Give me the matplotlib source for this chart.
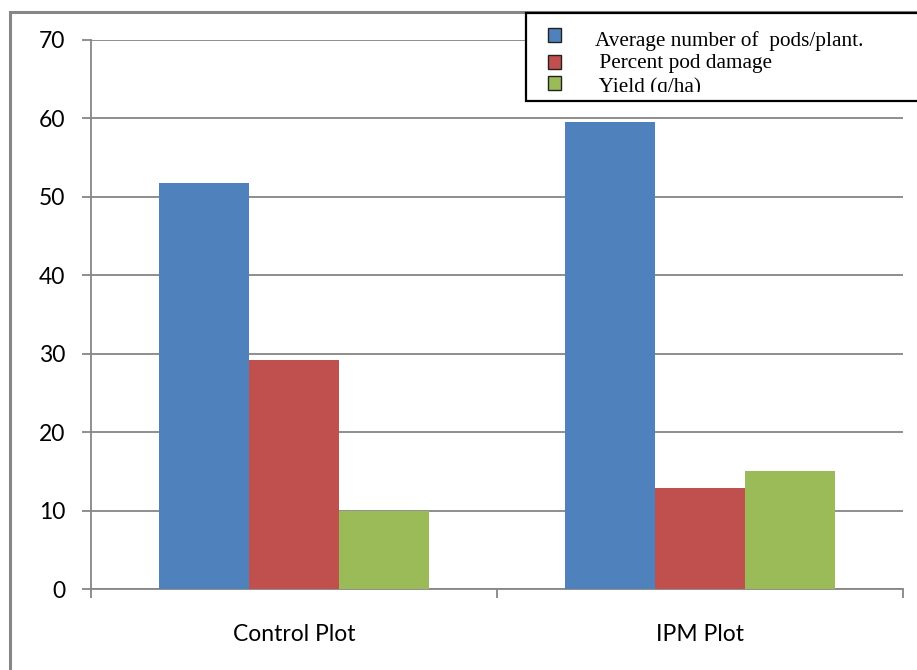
import matplotlib
matplotlib.use("Agg")
import matplotlib.pyplot as plt
from matplotlib.patches import Rectangle
from matplotlib.transforms import Bbox, TransformedBbox
import numpy as np

categories = ["Control Plot", "IPM Plot"]
series_names = ["Average number of  pods/plant.", " Percent pod damage", " Yield (q/ha)"]
pods_per_plant = [51.8, 59.5]
pod_damage = [29.2, 12.9]
yield_qha = [10.0, 15.0]
yticks = [0, 10, 20, 30, 40, 50, 60, 70]

colors = ["#4F81BD", "#C0504D", "#9BBB59"]
grid_gray = "#868686"

W, H = 917, 670
fig = plt.figure(figsize=(W / 100, H / 100), dpi=100)
ax = fig.add_axes([91 / W, 1 - 589 / H, (903 - 91) / W, (589 - 40) / H])

x = np.arange(len(categories))
bw = 0.222
for i, vals in enumerate([pods_per_plant, pod_damage, yield_qha]):
    ax.bar(x + (i - 1) * bw, vals, width=bw, color=colors[i], zorder=3)

ax.set_xlim(-0.5, 1.5)
ax.set_ylim(0, 70)
ax.set_yticks(yticks)
ax.yaxis.grid(True, color=grid_gray, linewidth=1.3, zorder=0)
ax.set_axisbelow(True)

ax.set_xticks(x)
ax.set_xticklabels(categories)
ax.set_xticks([-0.5, 0.5, 1.5], minor=True)
ax.tick_params(axis="x", which="major", length=0, pad=25)
ax.tick_params(axis="x", which="minor", length=6.5, width=1.3, color=grid_gray)
ax.tick_params(axis="y", length=6.5, width=1.3, color=grid_gray, pad=12)
for lab in ax.get_xticklabels() + ax.get_yticklabels():
    lab.set_fontfamily("Lato")
    lab.set_fontsize(16.5)

for s in ["top", "right"]:
    ax.spines[s].set_visible(False)
for s in ["left", "bottom"]:
    ax.spines[s].set_color(grid_gray)
    ax.spines[s].set_linewidth(1.3)

# outer chart frame
fig.patches.append(Rectangle((9.5 / W, 1 - 2000 / H), 3000 / W, (2000 - 11.5) / H,
                             transform=fig.transFigure, fill=False,
                             edgecolor=grid_gray, linewidth=2.2))

# legend box (text clipped at the bottom like the original)
fig.patches.append(Rectangle((526 / W, 1 - 101 / H), 1000 / W, (101 - 13) / H,
                             transform=fig.transFigure, facecolor="white",
                             edgecolor="black", linewidth=1.6, zorder=5))
clip_box = TransformedBbox(Bbox([[526 / W, 1 - 92 / H], [1.0, 1 - 13 / H]]), fig.transFigure)

marker_y = [35, 62, 83]
baseline_y = [46, 68, 92]
text_x = [595, 594, 594]
for i, name in enumerate(series_names):
    fig.patches.append(Rectangle((547.5 / W, 1 - (marker_y[i] + 6.5) / H), 13 / W, 13 / H,
                                 transform=fig.transFigure, facecolor=colors[i],
                                 edgecolor="#222222", linewidth=1.0, zorder=6))
    t = fig.text(text_x[i] / W, 1 - baseline_y[i] / H, name, family="Liberation Serif",
                 fontsize=15.3, va="baseline", ha="left", zorder=7)
    t.set_clip_box(clip_box)
    t.set_clip_on(True)

fig.savefig("out.png", dpi=100)
